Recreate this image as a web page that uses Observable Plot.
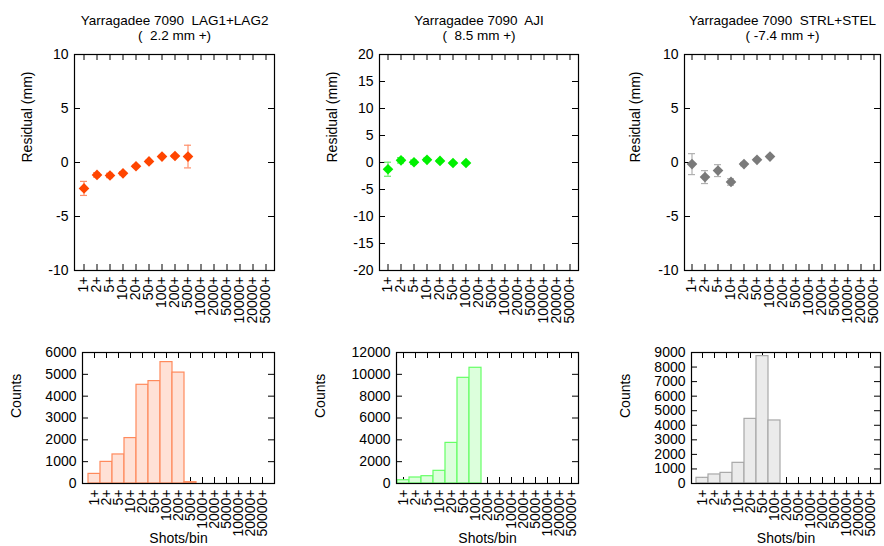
<!DOCTYPE html>
<html>
<head>
<meta charset="utf-8">
<script src="https://cdn.jsdelivr.net/npm/d3@7"></script>
<script src="https://cdn.jsdelivr.net/npm/@observablehq/plot@0.6"></script>
<style>
  body { margin: 0; background: #fff; }
  #wrap { position: relative; width: 884px; height: 546px; overflow: hidden; background: #fff; }
  #wrap svg { position: absolute; }
  #wrap svg text { white-space: pre; }
</style>
</head>
<body>
<div id="wrap"></div>
<script>
// ---- data ----
const bins = ["1+","2+","5+","10+","20+","50+","100+","200+","500+","1000+","2000+","5000+","10000+","20000+","50000+"];

const titles = [
  ["Yarragadee 7090  LAG1+LAG2", "(  2.2 mm +)"],
  ["Yarragadee 7090  AJI", "(  8.5 mm +)"],
  ["Yarragadee 7090  STRL+STEL", "( -7.4 mm +)"]
];

// residuals (mm) and error half-widths, one entry per bin from "1+"
const resLag  = [-2.4, -1.15, -1.2, -1.0, -0.35, 0.1, 0.55, 0.6, 0.55];
const errLag  = [0.65, 0.2, 0.2, 0.15, 0.1, 0.1, 0.1, 0.1, 1.05];
const resAji  = [-1.25, 0.4, 0.05, 0.5, 0.3, -0.1, -0.1];
const errAji  = [1.3, 0.5, 0.4, 0.3, 0.2, 0.15, 0.1];
const resStrl = [-0.15, -1.35, -0.75, -1.8, -0.15, 0.25, 0.55];
const errStrl = [0.97, 0.6, 0.55, 0.3, 0.15, 0.1, 0.1];

// counts per bin
const cntLag  = [440, 990, 1330, 2080, 4520, 4690, 5560, 5080, 60, 0, 0, 0, 0, 0, 0];
const cntAji  = [300, 550, 670, 1160, 3720, 9680, 10600, 0, 0, 0, 0, 0, 0, 0, 0];
const cntStrl = [390, 620, 730, 1420, 4440, 8750, 4330, 0, 0, 0, 0, 0, 0, 0, 0];

// axis ticks
const resDomains = [[-10, 10], [-20, 20], [-10, 10]];
const resTicks = [[-10, -5, 0, 5, 10], [-20, -15, -10, -5, 0, 5, 10, 15, 20], [-10, -5, 0, 5, 10]];
const cntDomains = [[0, 6000], [0, 12000], [0, 9000]];
const cntTicks = [
  [0, 1000, 2000, 3000, 4000, 5000, 6000],
  [0, 2000, 4000, 6000, 8000, 10000, 12000],
  [0, 1000, 2000, 3000, 4000, 5000, 6000, 7000, 8000, 9000]
];

// ---- styling ----
const pointColors = ["#ff4500", "#00f000", "#7a7a7a"];
const errColors   = ["#ff8f6a", "#66ee66", "#b0b0b0"];
const barFill     = ["#ffe1d6", "#dcffdc", "#ebebeb"];
const barStroke   = ["#ff8a5c", "#66ff66", "#a8a8a8"];

const font = "'Liberation Sans', Arial, Helvetica, sans-serif";
const FS = 14;
const TFS = 13.5;
const wrap = document.getElementById("wrap");

const topLayout = [
  {left: 0,   width: 294, ml: 74, mr: 20, ylab: -47},
  {left: 294, width: 300, ml: 85, mr: 16, ylab: -47},
  {left: 594, width: 290, ml: 90, mr: 4,  ylab: -49}
];
const botLayout = [
  {left: 0,   width: 294, ml: 82,  mr: 20, ylab: -66},
  {left: 294, width: 300, ml: 102, mr: 16, ylab: -76},
  {left: 594, width: 290, ml: 97,  mr: 4,  ylab: -66}
];

const resSeries = [[resLag, errLag], [resAji, errAji], [resStrl, errStrl]];
const cntSeries = [cntLag, cntAji, cntStrl];

function ticksFrame(fw, fh, yt) {
  return [
    Plot.tickX(bins, {x: d => d, stroke: "black", insetTop: fh - 6}),
    Plot.tickX(bins, {x: d => d, stroke: "black", insetBottom: fh - 6}),
    Plot.tickY(yt, {y: d => d, stroke: "black", insetRight: fw - 6}),
    Plot.tickY(yt, {y: d => d, stroke: "black", insetLeft: fw - 6})
  ];
}

const plain = d => String(d);

for (let i = 0; i < 3; i++) {
  // ---- top residual panel ----
  const L = topLayout[i];
  const H = 330, mt = 54, mb = 60;
  const fw = L.width - L.ml - L.mr, fh = H - mt - mb;
  const [res, err] = resSeries[i];
  const pts = res.map((v, j) => ({bin: bins[j], v, e: err[j]}));
  const top = Plot.plot({
    width: L.width, height: H,
    marginLeft: L.ml, marginRight: L.mr, marginTop: mt, marginBottom: mb,
    style: {fontFamily: font, fontSize: FS + "px", background: "transparent", overflow: "visible", color: "black"},
    x: {type: "band", domain: bins, padding: 0, axis: null},
    y: {domain: resDomains[i], axis: null},
    marks: [
      ...ticksFrame(fw, fh, resTicks[i]),
      Plot.axisX({tickSize: 0, tickPadding: 6, tickRotate: -90, label: null, fontSize: FS, fill: "black"}),
      Plot.axisY({ticks: resTicks[i], tickFormat: plain, tickSize: 0, tickPadding: 6, label: null, fontSize: FS, fill: "black"}),
      Plot.ruleX(pts, {x: "bin", y1: d => d.v - d.e, y2: d => d.v + d.e, stroke: errColors[i], strokeWidth: 1.2}),
      Plot.tickY(pts, {x: "bin", y: d => d.v - d.e, stroke: errColors[i], strokeWidth: 1.2, insetLeft: 3, insetRight: 3}),
      Plot.tickY(pts, {x: "bin", y: d => d.v + d.e, stroke: errColors[i], strokeWidth: 1.2, insetLeft: 3, insetRight: 3}),
      Plot.dot(pts, {x: "bin", y: "v", symbol: "diamond2", r: 4.8, fill: pointColors[i], stroke: "none"}),
      Plot.frame({stroke: "black", strokeWidth: 1.2}),
      Plot.text([titles[i][0]], {text: d => d, frameAnchor: "top", dy: -39, fontSize: TFS, fill: "black"}),
      Plot.text([titles[i][1]], {text: d => d, frameAnchor: "top", dy: -24.5, fontSize: TFS, fill: "black"}),
      Plot.text(["Residual (mm)"], {text: d => d, frameAnchor: "left", dx: L.ylab, rotate: -90, fontSize: FS, fill: "black"})
    ]
  });
  top.style.left = L.left + "px";
  top.style.top = "0px";
  wrap.appendChild(top);

  // ---- bottom counts panel ----
  const B = botLayout[i];
  const BH = 216, bmt = 22, bmb = 63;
  const bfw = B.width - B.ml - B.mr, bfh = BH - bmt - bmb;
  const counts = cntSeries[i].map((c, j) => ({bin: bins[j], c}));
  const bot = Plot.plot({
    width: B.width, height: BH,
    marginLeft: B.ml, marginRight: B.mr, marginTop: bmt, marginBottom: bmb,
    style: {fontFamily: font, fontSize: FS + "px", background: "transparent", overflow: "visible", color: "black"},
    x: {type: "band", domain: bins, padding: 0, axis: null},
    y: {domain: cntDomains[i], axis: null},
    marks: [
      ...ticksFrame(bfw, bfh, cntTicks[i]),
      Plot.barY(counts.filter(d => d.c > 0), {x: "bin", y: "c", fill: barFill[i], stroke: barStroke[i], strokeWidth: 1.2}),
      Plot.axisX({tickSize: 0, tickPadding: 6, tickRotate: -90, label: null, fontSize: FS, fill: "black"}),
      Plot.axisY({ticks: cntTicks[i], tickFormat: plain, tickSize: 0, tickPadding: 6, label: null, fontSize: FS, fill: "black"}),
      Plot.frame({stroke: "black", strokeWidth: 1.2}),
      Plot.text(["Counts"], {text: d => d, frameAnchor: "left", dx: B.ylab, rotate: -90, fontSize: FS, fill: "black"}),
      Plot.text(["Shots/bin"], {text: d => d, frameAnchor: "bottom", dy: 59, fontSize: FS, fill: "black"})
    ]
  });
  bot.style.left = B.left + "px";
  bot.style.top = "330px";
  wrap.appendChild(bot);
}
</script>
</body>
</html>
